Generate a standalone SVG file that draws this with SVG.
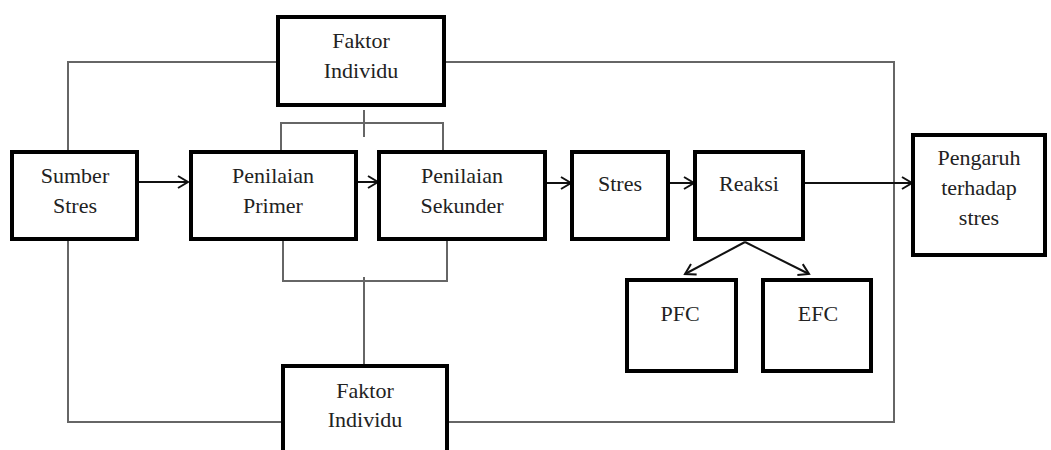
<svg xmlns="http://www.w3.org/2000/svg" width="1051" height="450" viewBox="0 0 1051 450">
<style>
.box{fill:#fff;stroke:#000;stroke-width:4}
.frame{fill:none;stroke:#666;stroke-width:2}
.arr{fill:none;stroke:#111;stroke-width:2}
text{font-family:"Liberation Serif","Times New Roman",serif;font-size:22px;fill:#222;text-anchor:middle}
</style>
<defs>
<marker id="ah" markerWidth="14" markerHeight="14" refX="11" refY="7" orient="auto" markerUnits="userSpaceOnUse">
<path d="M1,1 L11,7 L1,13" fill="none" stroke="#111" stroke-width="2"/>
</marker>
</defs>
<rect width="1051" height="450" fill="#fff"/>
<g id="connectors">
<rect class="frame" x="68" y="62" width="826" height="360"/>
<polyline class="frame" points="281,152 281,123 443,123 443,152"/>
<line class="frame" x1="364" y1="110" x2="364" y2="137"/>
<polyline class="frame" points="283,239 283,281 447,281 447,239"/>
<line class="frame" x1="364" y1="277" x2="364" y2="366"/>
<line class="arr" x1="137" y1="182" x2="188" y2="182" marker-end="url(#ah)"/>
<line class="arr" x1="356" y1="182" x2="378" y2="182" marker-end="url(#ah)"/>
<line class="arr" x1="545" y1="183" x2="571" y2="183" marker-end="url(#ah)"/>
<line class="arr" x1="668" y1="183" x2="694" y2="183" marker-end="url(#ah)"/>
<line class="arr" x1="803" y1="183" x2="912" y2="183" marker-end="url(#ah)"/>
<line class="arr" x1="745" y1="242" x2="685" y2="274" marker-end="url(#ah)"/>
<line class="arr" x1="745" y1="242" x2="809" y2="274" marker-end="url(#ah)"/>
</g>
<g id="faktor-top"><rect class="box" x="278" y="17" width="166" height="88"/><text x="361" y="48">Faktor</text><text x="361" y="78">Individu</text></g>
<g id="sumber"><rect class="box" x="12" y="152" width="125" height="87"/><text x="75" y="183">Sumber</text><text x="75" y="213">Stres</text></g>
<g id="primer"><rect class="box" x="191" y="152" width="165" height="87"/><text x="273" y="183">Penilaian</text><text x="273" y="213">Primer</text></g>
<g id="sekunder"><rect class="box" x="379" y="152" width="166" height="87"/><text x="462" y="183">Penilaian</text><text x="462" y="213">Sekunder</text></g>
<g id="stres"><rect class="box" x="572" y="152" width="96" height="87"/><text x="620" y="191">Stres</text></g>
<g id="reaksi"><rect class="box" x="695" y="152" width="108" height="87"/><text x="749" y="191">Reaksi</text></g>
<g id="pengaruh"><rect class="box" x="913" y="135" width="132" height="120"/><text x="979" y="165">Pengaruh</text><text x="979" y="195">terhadap</text><text x="979" y="225">stres</text></g>
<g id="pfc"><rect class="box" x="627" y="280" width="109" height="91"/><text x="680" y="321">PFC</text></g>
<g id="efc"><rect class="box" x="763" y="280" width="108" height="91"/><text x="818" y="321">EFC</text></g>
<g id="faktor-bottom"><rect class="box" x="283" y="366" width="164" height="90"/><text x="365" y="398">Faktor</text><text x="365" y="427">Individu</text></g>
</svg>
